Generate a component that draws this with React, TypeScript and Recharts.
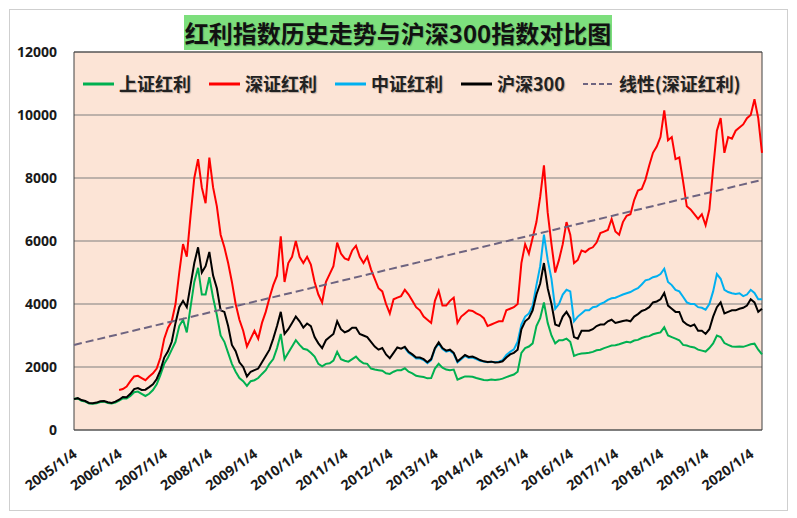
import React from 'react';
import { LineChart, Line, XAxis, YAxis, CartesianGrid, Legend, ReferenceArea } from 'recharts';

const tickLabels = [
  '2005/1/4', '2006/1/4', '2007/1/4', '2008/1/4', '2009/1/4', '2010/1/4', '2011/1/4', '2012/1/4',
  '2013/1/4', '2014/1/4', '2015/1/4', '2016/1/4', '2017/1/4', '2018/1/4', '2019/1/4', '2020/1/4',
];
const yTicks = [0, 2000, 4000, 6000, 8000, 10000, 12000];

const MONTH_COUNT = 184;
const months: string[] = [];
for (let y = 2005; months.length < MONTH_COUNT; y++) {
  for (let m = 1; m <= 12 && months.length < MONTH_COUNT; m++) months.push(`${y}/${m}`);
}

// 上证红利
const shanghaiDividend: (number | null)[] = [
  990, 1000, 930, 900, 840, 830, 850, 890, 900, 860, 840, 870,
  930, 1000, 1000, 1080, 1200, 1220, 1150, 1080, 1150, 1270, 1450, 1750,
  2100, 2300, 2550, 2800, 3300, 3500, 3100, 3900, 4700, 5150, 4300, 4300,
  4850, 4200, 3650, 3000, 2800, 2450, 2100, 1850, 1650, 1550, 1400, 1550,
  1580, 1650, 1780, 1900, 2100, 2250, 2600, 3050, 2250, 2450, 2650, 2850,
  2700, 2580, 2550, 2450, 2330, 2100, 2020, 2100, 2120, 2200, 2480, 2250,
  2200, 2170, 2250, 2330, 2200, 2120, 2100, 1950, 1920, 1900, 1880, 1800,
  1780, 1850, 1900, 1900, 1960, 1850, 1800, 1720, 1700, 1680, 1640, 1650,
  1950, 2100, 1980, 1920, 1900, 1920, 1600, 1650, 1700, 1700, 1690, 1650,
  1620, 1590, 1580, 1600, 1590, 1600, 1630, 1680, 1720, 1760, 1850, 2450,
  2600, 2650, 2750, 3300, 3550, 4050, 3400, 3000, 2750, 2850, 2850, 2900,
  2800, 2350, 2400, 2430, 2440, 2450, 2480, 2530, 2550, 2600, 2640, 2680,
  2690, 2720, 2760, 2800, 2780, 2840, 2860, 2920, 2960, 2980, 3040, 3070,
  3100, 3260, 3000, 2950, 2900, 2850, 2700, 2680, 2640, 2620, 2550, 2520,
  2490, 2600, 2750, 3000, 2950, 2760, 2700, 2650, 2640, 2650, 2640, 2680,
  2720, 2740, 2550, 2400,
];

// 深证红利
const shenzhenDividend: (number | null)[] = [
  null, null, null, null, null, null, null, null, null, null, null, null,
  1270, 1300, 1380, 1550, 1700, 1720, 1650, 1580, 1700, 1800, 1950, 2300,
  2900, 3250, 3450, 4000, 5000, 5900, 5500, 6800, 8000, 8600, 7700, 7200,
  8650, 7700, 7100, 6200, 5800, 5300, 4700, 4000, 3500, 3150, 2650, 2900,
  3150, 2900, 3400, 3750, 4200, 4600, 4900, 6150, 4700, 5300, 5500, 6000,
  5500, 5300, 5500, 5250, 4700, 4300, 4050, 4700, 4950, 5200, 5950, 5600,
  5450, 5400, 5700, 5850, 5500, 5300, 5500, 5100, 4800, 4500, 4400, 4000,
  3700, 4150, 4200, 4250, 4450, 4300, 4100, 3900, 3800, 3600, 3500, 3400,
  4100, 4420, 3950, 3950, 4100, 4200, 3400, 3600, 3700, 3800, 3780, 3700,
  3650, 3550, 3300, 3350, 3400, 3450, 3450, 3800, 3850, 3900, 4000, 5300,
  5900, 5600, 6100, 6600, 7400, 8400, 6900, 5900, 5000, 5400, 5900, 6600,
  6200, 5300, 5400, 5700, 5650, 5750, 5800, 5950, 6250, 6300, 6350, 6700,
  6300, 6200, 6600, 6800, 6850, 7300, 7600, 7650, 7950, 8400, 8800, 9000,
  9300, 10150, 9200, 9300, 8600, 8650, 7900, 7100, 7000, 6850, 6700, 6850,
  6500, 7000, 8300, 9500, 9900, 8800, 9300, 9250, 9500, 9600, 9700, 9900,
  10000, 10500, 9900, 8800,
];

// 中证红利
const csiDividend: (number | null)[] = [
  null, null, null, null, null, null, null, null, null, null, null, null,
  null, null, null, null, null, null, null, null, null, null, null, null,
  null, null, null, null, null, null, null, null, null, null, null, null,
  null, null, null, null, null, null, null, null, null, null, null, null,
  null, null, null, null, null, null, null, null, null, null, null, null,
  null, null, null, null, null, null, null, null, null, null, null, null,
  null, null, null, null, null, null, null, null, null, null, null, null,
  null, null, null, null, 2610, 2450, 2370, 2270, 2270, 2220, 2120, 2220,
  2570, 2750, 2570, 2490, 2520, 2420, 2150, 2250, 2350, 2290, 2300, 2250,
  2200, 2170, 2150, 2170, 2150, 2170, 2220, 2380, 2480, 2560, 2800, 3350,
  3600, 3700, 3950, 4600, 5200, 6200, 5400, 4800, 3850, 4000, 4300, 4450,
  4400, 3450, 3600, 3700, 3800, 3800, 3900, 3920, 4000, 4050, 4130, 4180,
  4200, 4250, 4300, 4340, 4380, 4450, 4500, 4620, 4750, 4780, 4850, 4880,
  4950, 5120, 4700, 4600, 4450, 4400, 4230, 4050, 4000, 4000, 3900, 3880,
  3820, 4000, 4400, 4950, 4800, 4450, 4380, 4340, 4320, 4340, 4250, 4300,
  4450, 4350, 4150, 4150,
];

// 沪深300
const csi300: (number | null)[] = [
  980, 1010, 950, 920, 860, 850, 870, 910, 920, 880, 860, 900,
  960, 1050, 1040, 1150, 1300, 1330, 1270, 1280, 1360, 1450, 1620, 1900,
  2300, 2500, 2800, 3400, 3900, 4100, 3900, 4600, 5300, 5800, 5000, 5200,
  5650, 4900, 4500, 3800, 3750, 3300, 2700, 2500, 2150, 2000, 1700, 1850,
  1900, 1950, 2150, 2350, 2550, 2900, 3300, 3750, 3050, 3200, 3400, 3600,
  3450, 3250, 3380, 3300, 2950, 2750, 2600, 2850, 2950, 3050, 3450, 3200,
  3100, 3150, 3250, 3250, 3050, 3000, 2950, 2800, 2650, 2550, 2600, 2400,
  2280, 2450, 2620, 2580, 2640, 2480, 2400, 2300, 2300, 2250, 2150, 2250,
  2600, 2780, 2600, 2520, 2550, 2450, 2180, 2280, 2380, 2320, 2330, 2280,
  2220, 2180, 2160, 2170, 2140, 2150, 2180, 2300, 2400, 2450, 2550, 3200,
  3450, 3550, 3800, 4300, 4650, 5300, 4500, 4000, 3350, 3300, 3600, 3750,
  3550, 2950, 2900, 3150, 3150, 3150, 3200, 3300, 3350, 3350, 3450, 3500,
  3400, 3430, 3460, 3480, 3450, 3600, 3680, 3780, 3820, 3900, 4050, 4080,
  4150, 4350, 3950, 3850, 3750, 3750, 3450, 3350, 3300, 3350, 3150, 3150,
  3050, 3200, 3600, 3900, 4050, 3700, 3750, 3800, 3800, 3850, 3880, 3950,
  4150, 4050, 3750, 3850,
];

// 线性(深证红利) trend line end points
const trendEnds = [2700, 7940];

const data = months.map((d, i) => ({
  d,
  sh: shanghaiDividend[i],
  sz: shenzhenDividend[i],
  zz: csiDividend[i],
  hs: csi300[i],
  trend: i === 0 ? trendEnds[0] : i === months.length - 1 ? trendEnds[1] : null,
}));

const series = [
  { key: 'sh', name: '上证红利', color: '#00B050', dashed: false },
  { key: 'sz', name: '深证红利', color: '#FF0000', dashed: false },
  { key: 'zz', name: '中证红利', color: '#00B0F0', dashed: false },
  { key: 'hs', name: '沪深300', color: '#000000', dashed: false },
  { key: 'trend', name: '线性(深证红利)', color: '#6E6480', dashed: true },
];

const cjkFont = '"Noto Sans CJK SC", "Noto Sans", sans-serif';
const numFont = '"Open Sans", "Liberation Sans", sans-serif';

const XTick = (props: any) => {
  const { x, y, payload } = props;
  const [yr, mo] = String(payload.value).split('/');
  if (mo !== '1') return null;
  const label = tickLabels.find((t) => t.startsWith(yr + '/')) || '';
  const ax = x + 4;
  const ay = y + 26;
  return (
    <text
      x={ax}
      y={ay}
      textAnchor="end"
      transform={`rotate(-36, ${ax}, ${ay})`}
      fontFamily={numFont}
      fontWeight="bold"
      fontSize={14}
      fill="#1a1a1a"
    >
      {label}
    </text>
  );
};

const LegendContent = () => (
  <div style={{ display: 'flex', alignItems: 'center', whiteSpace: 'nowrap' }}>
    {series.map((s) => (
      <div key={s.key} style={{ display: 'flex', alignItems: 'center', marginRight: 18 }}>
        <svg width={31} height={4} style={{ display: 'block' }}>
          <line
            x1={0}
            y1={2}
            x2={31}
            y2={2}
            stroke={s.color}
            strokeWidth={s.dashed ? 2 : 3}
            strokeDasharray={s.dashed ? '5 3' : undefined}
          />
        </svg>
        <span
          style={{
            marginLeft: 5,
            fontFamily: cjkFont,
            fontWeight: 'bold',
            fontSize: 18,
            lineHeight: '21px',
            color: '#222',
            textShadow: '1px 1px 1px rgba(0,0,0,0.25)',
          }}
        >
          {s.name}
        </span>
      </div>
    ))}
  </div>
);

export default function App() {
  return (
    <div
      style={{
        position: 'relative',
        width: 777,
        height: 500,
        border: '1px solid #cfcfcf',
        margin: '1px 0 0 1px',
        background: '#ffffff',
      }}
    >
      <div
        style={{
          position: 'absolute',
          left: 174,
          top: 5,
          width: 428,
          height: 35,
          background: '#7DDF7D',
          textAlign: 'center',
          fontFamily: cjkFont,
          fontWeight: 'bold',
          fontSize: 24,
          lineHeight: '35px',
          color: '#111',
          whiteSpace: 'nowrap',
          textShadow: '1px 1px 1px rgba(0,0,0,0.2)',
          zIndex: 2,
        }}
      >
        红利指数历史走势与沪深300指数对比图
      </div>
      <LineChart width={777} height={500} data={data} margin={{ top: 42, right: 25, bottom: 20, left: 10 }}>
        <CartesianGrid horizontal vertical={false} stroke="#7f7f7f" fill="#FCE4D6" fillOpacity={1} />
        <XAxis
          dataKey="d"
          interval={11}
          tickLine={false}
          axisLine={false}
          tickSize={0}
          tickMargin={0}
          height={60}
          tick={<XTick />}
        />
        <YAxis
          domain={[0, 12000]}
          ticks={yTicks}
          interval={0}
          width={54}
          tickLine={false}
          axisLine={false}
          tickSize={0}
          tickMargin={17}
          tick={{ fontFamily: numFont, fontWeight: 'bold', fontSize: 14, fill: '#1a1a1a' }}
        />
        <ReferenceArea
          x1={months[0]}
          x2={months[months.length - 1]}
          y1={0}
          y2={12000}
          fill="none"
          stroke="#404040"
          strokeWidth={1}
          ifOverflow="visible"
        />
        <Line type="linear" dataKey="sh" name="上证红利" stroke="#00B050" strokeWidth={2} dot={false} isAnimationActive={false} />
        <Line type="linear" dataKey="sz" name="深证红利" stroke="#FF0000" strokeWidth={2} dot={false} isAnimationActive={false} />
        <Line type="linear" dataKey="zz" name="中证红利" stroke="#00B0F0" strokeWidth={2} dot={false} isAnimationActive={false} />
        <Line type="linear" dataKey="hs" name="沪深300" stroke="#000000" strokeWidth={2} dot={false} isAnimationActive={false} />
        <Line
          type="linear"
          dataKey="trend"
          name="线性(深证红利)"
          stroke="#6E6480"
          strokeWidth={2}
          strokeDasharray="8 4"
          dot={false}
          connectNulls
          isAnimationActive={false}
        />
        <Legend
          layout="horizontal"
          verticalAlign="middle"
          align="center"
          content={<LegendContent />}
          wrapperStyle={{ left: 73, top: 63, width: 700, height: 21 }}
        />
      </LineChart>
    </div>
  );
}
